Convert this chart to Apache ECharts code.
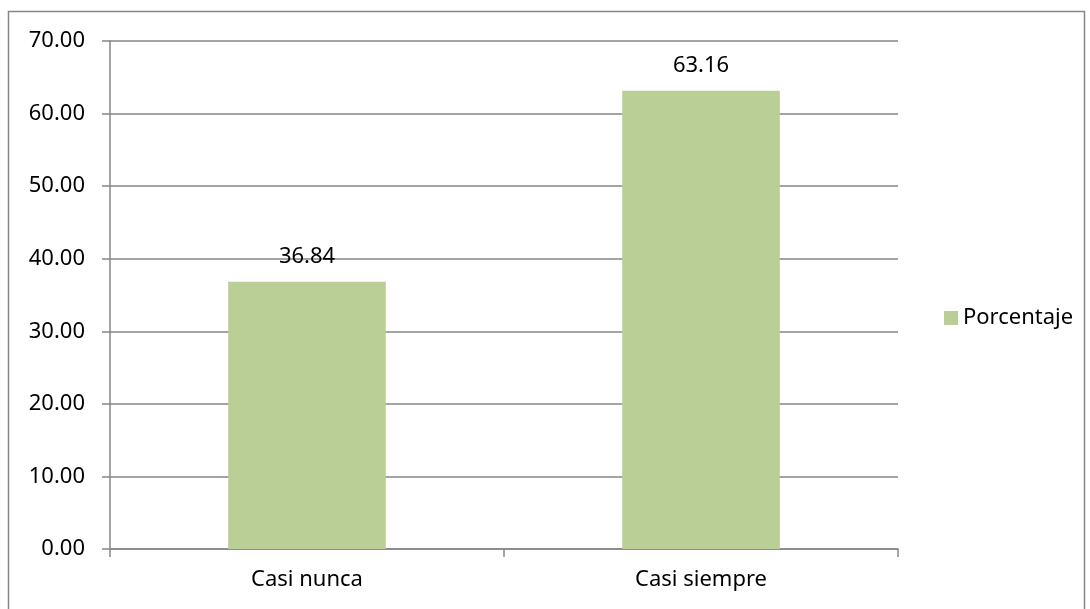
<!DOCTYPE html>
<html>
<head>
<meta charset="utf-8">
<script src="https://cdn.jsdelivr.net/npm/echarts@6/dist/echarts.min.js"></script>
<style>
  html, body { margin: 0; padding: 0; background: #fff; }
  #chart { width: 1090px; height: 609px; }
</style>
</head>
<body>
<div id="chart"></div>
<script>
const categories = ['Casi nunca', 'Casi siempre'];
const seriesName = 'Porcentaje';
const values = [36.84, 63.16];

const chart = echarts.init(document.getElementById('chart'));

chart.setOption({
    animation: false,
    backgroundColor: '#fff',
    textStyle: { fontFamily: 'Noto Sans' },
    graphic: [{
        type: 'rect',
        shape: { x: 8.5, y: 11.5, width: 1076, height: 620 },
        style: { fill: 'none', stroke: '#868686', lineWidth: 1.5 },
        silent: true
    }],
    grid: { left: 110, right: 192, top: 41, bottom: 60 },
    legend: {
        data: [{ name: seriesName, icon: 'rect' }],
        orient: 'vertical',
        left: 939,
        top: 302,
        itemWidth: 14,
        itemHeight: 14,
        itemGap: 6,
        textStyle: { fontSize: 22, color: '#000', fontFamily: 'Noto Sans' }
    },
    xAxis: {
        type: 'category',
        data: categories,
        axisLine: { lineStyle: { color: '#868686', width: 1.5 } },
        axisTick: { show: true, length: 8, lineStyle: { color: '#868686', width: 1.5 } },
        axisLabel: { color: '#000', fontSize: 22, margin: 20, fontFamily: 'Noto Sans' }
    },
    yAxis: {
        type: 'value',
        min: 0,
        max: 70,
        interval: 10,
        axisLine: { show: true, lineStyle: { color: '#868686', width: 1.5 } },
        axisTick: { show: true, length: 8, lineStyle: { color: '#868686', width: 1.5 } },
        splitLine: { lineStyle: { color: '#868686', width: 1.5 } },
        axisLabel: {
            color: '#000',
            fontSize: 22,
            margin: 25,
            fontFamily: 'Noto Sans',
            formatter: v => v.toFixed(2)
        }
    },
    series: [{
        name: seriesName,
        type: 'bar',
        data: values,
        barWidth: '40%',
        itemStyle: { color: '#B9CF96' },
        label: {
            show: true,
            position: 'top',
            distance: 14,
            color: '#000',
            fontSize: 22,
            fontFamily: 'Noto Sans',
            formatter: p => p.value.toFixed(2)
        }
    }]
});
</script>
</body>
</html>
